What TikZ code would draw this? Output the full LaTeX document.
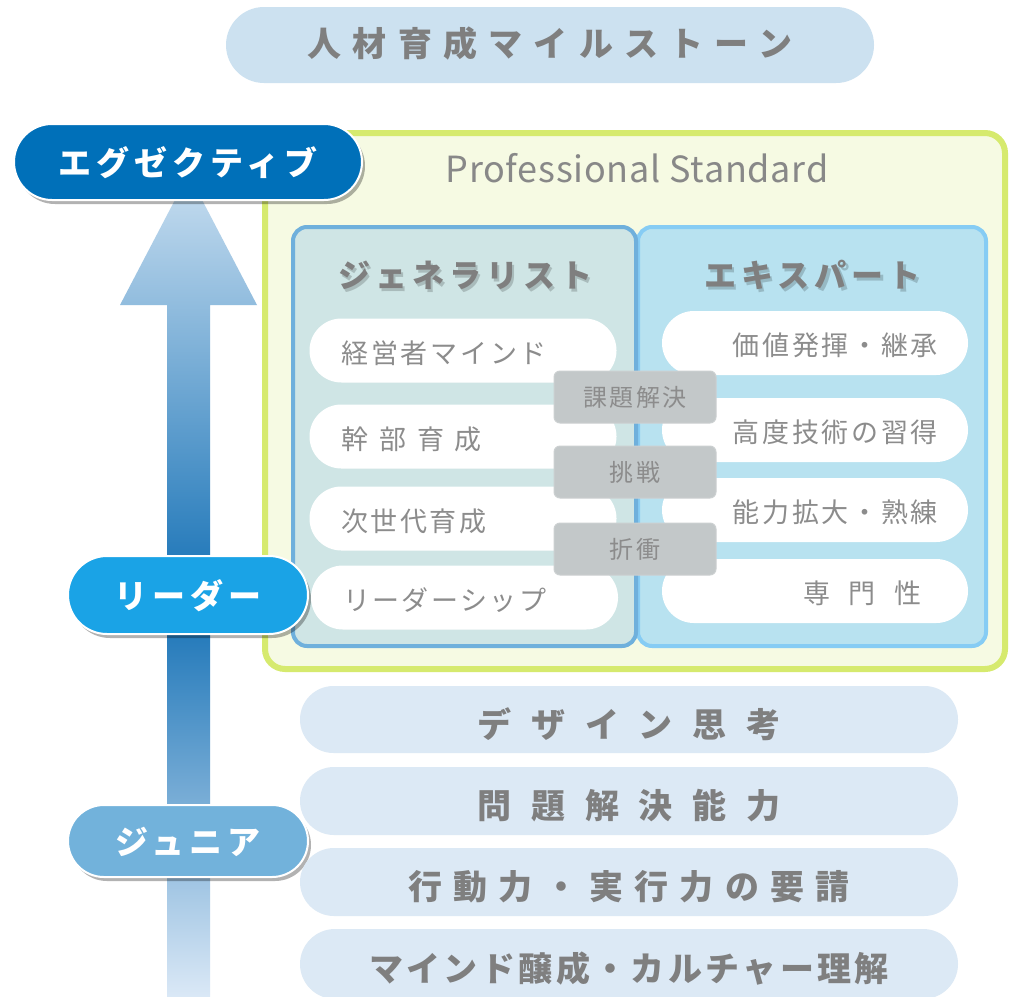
\documentclass[tikz,border=0pt]{standalone}
\usepackage{fontspec}
\newfontfamily\jp{Noto Sans CJK JP}
\usetikzlibrary{shapes.misc,shadows}
\definecolor{titleblue}{HTML}{CCE1F0}
\definecolor{txtgray}{HTML}{7F7F7F}
\definecolor{ltgray}{HTML}{8C8C8C}
\definecolor{psgray}{HTML}{888888}
\definecolor{greenline}{HTML}{D6EA6E}
\definecolor{greenfill}{HTML}{F6FAE3}
\definecolor{genfill}{HTML}{CFE5E5}
\definecolor{genline}{HTML}{6FB0DC}
\definecolor{expfill}{HTML}{B8E2F0}
\definecolor{expline}{HTML}{86CCF4}
\definecolor{graybox}{HTML}{C3C8C9}
\definecolor{graytext}{HTML}{8C8C8C}
\definecolor{execblue}{HTML}{0070B9}
\definecolor{leaderblue}{HTML}{1AA3E6}
\definecolor{juniorblue}{HTML}{72B2DB}
\definecolor{botfill}{HTML}{DCE9F5}
\definecolor{arrtop}{HTML}{C8DEF0}
\definecolor{arrmid}{HTML}{1470B5}
\definecolor{arrbot}{HTML}{DAE8F6}
\newcommand\lsp[2]{\addfontfeatures{LetterSpace=#1}#2}
\tikzset{
  every node/.style={inner sep=0pt, outer sep=0pt},
  titlepill/.style={rounded rectangle, fill=titleblue, minimum width=648pt, minimum height=76pt,
    text=txtgray, font=\jp\bfseries\fontsize{34}{34}\selectfont, text height=23.8pt, text depth=0pt},
  lvl/.style={rounded rectangle, draw=white, line width=2pt, text=white,
    font=\jp\bfseries\fontsize{33}{33}\selectfont, text height=27pt, text depth=0pt,
    drop shadow={shadow xshift=3pt, shadow yshift=-4pt, opacity=0.3, fill=black}},
  hdr/.style={font=\jp\bfseries\fontsize{32}{32}\selectfont, text=txtgray, text height=24.3pt, text depth=0pt},
  hdrshadow/.style={hdr, text=black, opacity=0.18},
  colbox/.style={rectangle, rounded corners=14pt, line width=4pt},
  lpill/.style={rectangle, rounded corners=31.9pt, fill=white, minimum height=64pt,
    inner xsep=32pt, text width=243pt, align=left, text=ltgray,
    font=\jp\fontsize{27}{27}\selectfont, text height=25.5pt, text depth=0pt},
  rpill/.style={lpill, inner xsep=30pt, text width=246pt, align=right},
  gbox/.style={rectangle, rounded corners=6pt, fill=graybox, draw=graybox!85!white, line width=1pt,
    minimum width=162pt, minimum height=52pt,
    text=graytext, font=\jp\fontsize{24}{24}\selectfont, text height=18.2pt, text depth=0pt},
  botpill/.style={rounded rectangle, fill=botfill, minimum width=658pt, minimum height=68pt,
    text=txtgray, font=\jp\bfseries\fontsize{34}{34}\selectfont, text height=35.8pt, text depth=0pt},
}
\begin{document}
\begin{tikzpicture}[x=1pt,y=-1pt]
\useasboundingbox (0,0) rectangle (1011,996);
\fill[white] (0,0) rectangle (1011,996);
% rising arrow
\shade[top color=arrtop, bottom color=arrmid] (120,305) -- (188.5,174) -- (257,305) -- (210,305)
  -- (210,602) -- (167,602) -- (167,305) -- cycle;
\shade[top color=arrmid, bottom color=arrbot] (167,598) rectangle (210,996);
% title
\node[titlepill] (title) at (550,45) {\lsp{33}{人材育成マイルストーン}};
% professional standard frame
\node[draw=greenline, line width=6pt, fill=greenfill, rounded corners=20pt,
  minimum width=740pt, minimum height=536pt] (ps) at (635,401) {};
\node[font=\jp\fontsize{36}{36}\selectfont\addfontfeatures{LetterSpace=2}, text=psgray, anchor=base] (pstitle) at (637,182) {Professional Standard};
% columns
\node[colbox, draw=expline, fill=expfill, minimum width=348pt, minimum height=419pt] (exp) at (812,436.5) {};
\node[colbox, draw=genline, fill=genfill, minimum width=343pt, minimum height=419pt] (gen) at (464.5,436.5) {};
\node[hdrshadow] (genhs) at (467.5,278) {\lsp{16}{ジェネラリスト}};
\node[hdr] (genh) at (465.5,275) {\lsp{16}{ジェネラリスト}};
\node[hdrshadow] (exphs) at (815,278) {\lsp{16}{エキスパート}};
\node[hdr] (exph) at (812.5,275) {\lsp{16}{エキスパート}};
% generalist pills
\node[lpill] (g1) at (463,350.5) {\lsp{10}{経営者マインド}};
\node[lpill] (g2) at (463,436.5) {\lsp{40}{幹部育成}};
\node[lpill] (g3) at (463,518.5) {\lsp{9}{次世代育成}};
\node[lpill] (g4) at (464.5,597.5) {\lsp{9}{リーダーシップ}};
% expert pills
\node[rpill] (e1) at (815,343) {\lsp{10}{価値発揮・継承}};
\node[rpill] (e2) at (815,430) {\lsp{10}{高度技術の習得}};
\node[rpill] (e3) at (815,510) {\lsp{10}{能力拡大・熟練}};
\node[rpill] (e4) at (815,591) {\lsp{68}{専門性}\kern17pt};
% shared skills
\node[gbox] (s1) at (635,397) {\lsp{11}{課題解決}};
\node[gbox] (s2) at (635,472) {\lsp{14}{挑戦}};
\node[gbox] (s3) at (635,549) {\lsp{14}{折衝}};
% level pills
\node[lvl, fill=execblue, minimum width=348pt, minimum height=76pt] (exec) at (188,162) {\lsp{15}{エグゼクティブ}};
\node[lvl, fill=leaderblue, minimum width=240pt, minimum height=78pt] (leader) at (188,595) {\lsp{15}{リーダー}};
\node[lvl, fill=juniorblue, minimum width=240pt, minimum height=72pt] (junior) at (188,841) {\lsp{15}{ジュニア}};
% basic skills
\node[botpill, minimum height=67pt] (b1) at (629,719.5) {\lsp{58}{デザイン思考}};
\node[botpill] (b2) at (629,801) {\lsp{58}{問題解決能力}};
\node[botpill] (b3) at (629,882) {\lsp{33}{行動力・実行力の要請}};
\node[botpill, minimum height=70pt] (b4) at (629,964) {\lsp{10}{マインド醸成・カルチャー理解}};
\end{tikzpicture}
\end{document}
